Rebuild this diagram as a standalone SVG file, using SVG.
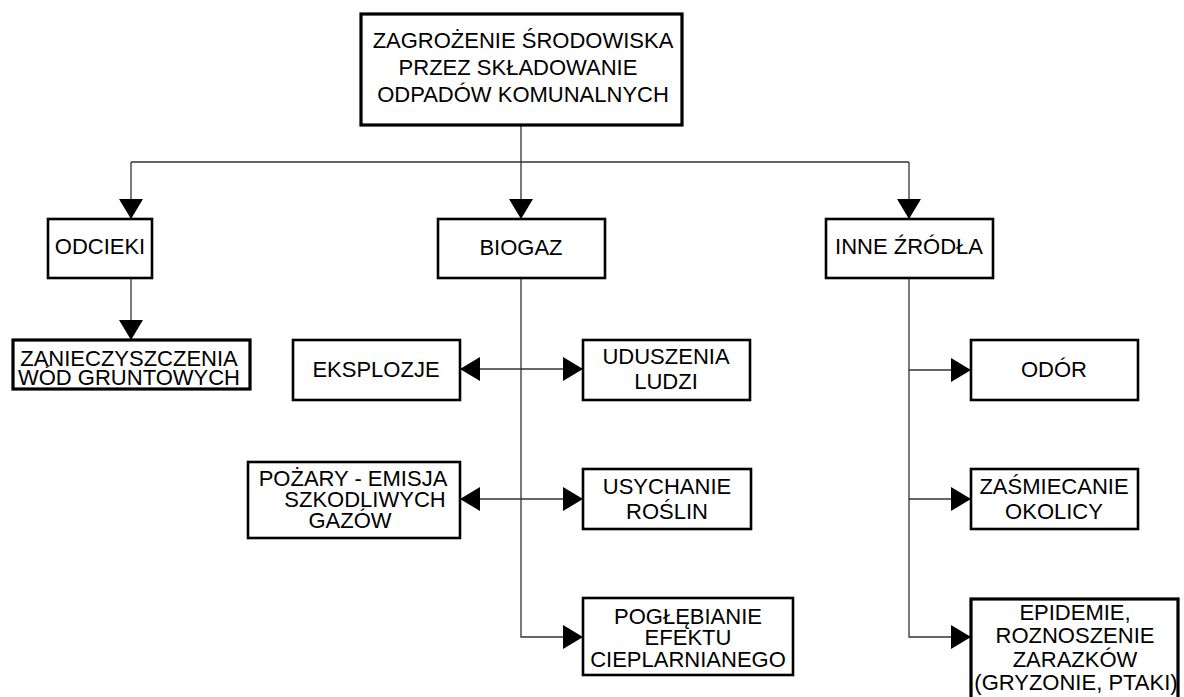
<svg xmlns="http://www.w3.org/2000/svg" width="1184" height="697" viewBox="0 0 1184 697">
<defs>
<marker id="arr" markerUnits="userSpaceOnUse" markerWidth="22" markerHeight="26" refX="20" refY="12" orient="auto-start-reverse">
<path d="M0,0 L20,12 L0,24 Z" fill="#000"/>
</marker>
<style>
.box{fill:#fff;stroke:#000;stroke-width:2.6}
.thick{stroke-width:3.2}
.t{font-family:"Liberation Sans",Arial,sans-serif;font-size:22px;fill:#000;text-anchor:middle}
.c{fill:none;stroke:#333;stroke-width:1.3}
</style>
</defs>
<rect width="1184" height="697" fill="#fff"/>
<g id="connectors">
<path class="c" d="M521,125 V162"/>
<path class="c" d="M131,162 H909"/>
<path class="c" d="M131,162 V219" marker-end="url(#arr)"/>
<path class="c" d="M521,162 V219" marker-end="url(#arr)"/>
<path class="c" d="M909,162 V219" marker-end="url(#arr)"/>
<path class="c" d="M131,278 V340" marker-end="url(#arr)"/>
<path class="c" d="M521,278 V637 H583" marker-end="url(#arr)"/>
<path class="c" d="M460,369 H583" marker-start="url(#arr)" marker-end="url(#arr)"/>
<path class="c" d="M460,499 H583" marker-start="url(#arr)" marker-end="url(#arr)"/>
<path class="c" d="M909,278 V637 H971" marker-end="url(#arr)"/>
<path class="c" d="M909,370 H971" marker-end="url(#arr)"/>
<path class="c" d="M909,499 H971" marker-end="url(#arr)"/>
</g>
<g id="node-root">
<rect class="box thick" x="361" y="14" width="321" height="111"/>
<text class="t" x="523" y="48">ZAGROŻENIE ŚRODOWISKA</text>
<text class="t" x="518" y="75">PRZEZ SKŁADOWANIE</text>
<text class="t" x="523" y="102">ODPADÓW KOMUNALNYCH</text>
</g>
<g id="node-odcieki">
<rect class="box" x="48" y="219" width="104" height="59"/>
<text class="t" x="100" y="254">ODCIEKI</text>
</g>
<g id="node-zanieczyszczenia">
<rect class="box thick" x="13" y="340" width="237" height="49"/>
<text class="t" x="129" y="366">ZANIECZYSZCZENIA</text>
<text class="t" x="129" y="385">WÓD GRUNTOWYCH</text>
</g>
<g id="node-biogaz">
<rect class="box" x="438" y="219" width="167" height="59"/>
<text class="t" x="521" y="255">BIOGAZ</text>
</g>
<g id="node-inne">
<rect class="box" x="826" y="219" width="167" height="59"/>
<text class="t" x="909" y="254">INNE ŹRÓDŁA</text>
</g>
<g id="node-eksplozje">
<rect class="box" x="293" y="340" width="167" height="60"/>
<text class="t" x="376" y="377">EKSPLOZJE</text>
</g>
<g id="node-uduszenia">
<rect class="box" x="583" y="340" width="167" height="60"/>
<text class="t" x="666" y="364">UDUSZENIA</text>
<text class="t" x="666" y="389">LUDZI</text>
</g>
<g id="node-pozary">
<rect class="box" x="248" y="462" width="212" height="76"/>
<text class="t" x="353" y="486">POŻARY - EMISJA</text>
<text class="t" x="365" y="507">SZKODLIWYCH</text>
<text class="t" x="350" y="528">GAZÓW</text>
</g>
<g id="node-usychanie">
<rect class="box" x="583" y="469" width="168" height="60"/>
<text class="t" x="667" y="494">USYCHANIE</text>
<text class="t" x="667" y="519">ROŚLIN</text>
</g>
<g id="node-poglebianie">
<rect class="box" x="583" y="598" width="210" height="77"/>
<text class="t" x="688" y="624">POGŁĘBIANIE</text>
<text class="t" x="688" y="645">EFEKTU</text>
<text class="t" x="688" y="667">CIEPLARNIANEGO</text>
</g>
<g id="node-odor">
<rect class="box" x="971" y="340" width="167" height="60"/>
<text class="t" x="1054" y="377">ODÓR</text>
</g>
<g id="node-zasmiecanie">
<rect class="box" x="971" y="469" width="167" height="60"/>
<text class="t" x="1054" y="494">ZAŚMIECANIE</text>
<text class="t" x="1054" y="519">OKOLICY</text>
</g>
<g id="node-epidemie">
<rect class="box thick" x="971" y="599" width="207" height="110"/>
<text class="t" x="1075" y="620">EPIDEMIE,</text>
<text class="t" x="1075" y="643">ROZNOSZENIE</text>
<text class="t" x="1075" y="667">ZARAZKÓW</text>
<text class="t" x="1076" y="690">(GRYZONIE, PTAKI)</text>
</g>
</svg>
